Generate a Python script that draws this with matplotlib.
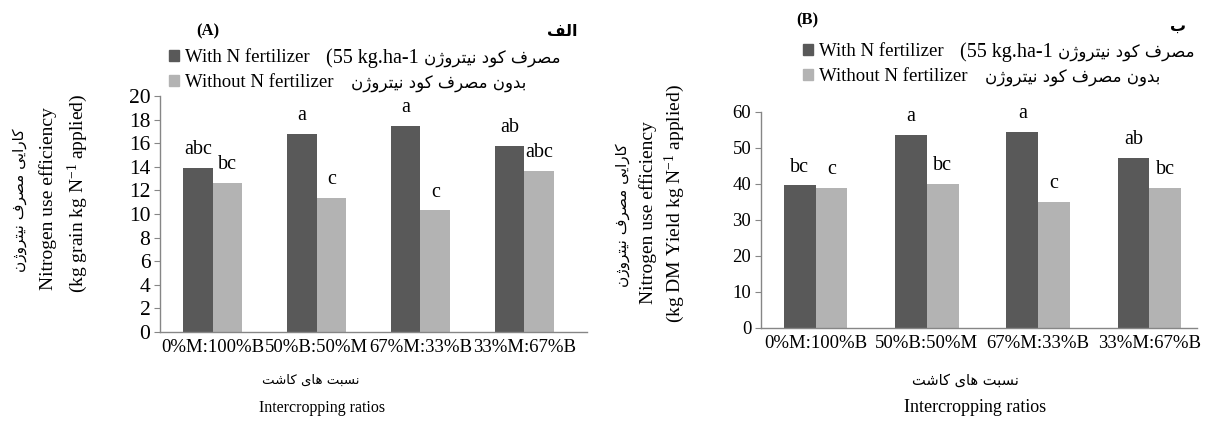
"""
Nitrogen use efficiency of intercropping ratios, with and without N fertilizer
"""
import matplotlib
matplotlib.use('Agg')
import matplotlib.pyplot as plt
from matplotlib.patches import Patch

##
# ---------------------------------------------------------------------------------------------------------------------
# Data
# ---------------------------------------------------------------------------------------------------------------------
ratios = ['0%M:100%B', '50%B:50%M', '67%M:33%B', '33%M:67%B']

grain_with_n = [13.9, 16.8, 17.45, 15.8]
grain_without_n = [12.6, 11.35, 10.3, 13.65]
grain_letters_with = ['abc', 'a', 'a', 'ab']
grain_letters_without = ['bc', 'c', 'c', 'abc']

dm_with_n = [39.6, 53.6, 54.5, 47.2]
dm_without_n = [38.8, 40.0, 35.0, 39.0]
dm_letters_with = ['bc', 'a', 'a', 'ab']
dm_letters_without = ['c', 'bc', 'c', 'bc']

##
# ---------------------------------------------------------------------------------------------------------------------
# Persian text helper (matplotlib has no Arabic shaping, so pick contextual forms by hand)
# ---------------------------------------------------------------------------------------------------------------------
# isolated, final, initial, medial
FORMS = {
    'ا': ('\uFE8D', '\uFE8E', None, None),
    'ب': ('\uFE8F', '\uFE90', '\uFE91', '\uFE92'),
    'ت': ('\uFE95', '\uFE96', '\uFE97', '\uFE98'),
    'د': ('\uFEA9', '\uFEAA', None, None),
    'ر': ('\uFEAD', '\uFEAE', None, None),
    'ژ': ('\uFB8A', '\uFB8B', None, None),
    'س': ('\uFEB1', '\uFEB2', '\uFEB3', '\uFEB4'),
    'ش': ('\uFEB5', '\uFEB6', '\uFEB7', '\uFEB8'),
    'ص': ('\uFEB9', '\uFEBA', '\uFEBB', '\uFEBC'),
    'ف': ('\uFED1', '\uFED2', '\uFED3', '\uFED4'),
    'ک': ('\uFB8E', '\uFB8F', '\uFB90', '\uFB91'),
    'ل': ('\uFEDD', '\uFEDE', '\uFEDF', '\uFEE0'),
    'م': ('\uFEE1', '\uFEE2', '\uFEE3', '\uFEE4'),
    'ن': ('\uFEE5', '\uFEE6', '\uFEE7', '\uFEE8'),
    'و': ('\uFEED', '\uFEEE', None, None),
    'ه': ('\uFEE9', '\uFEEA', '\uFEEB', '\uFEEC'),
    'ی': ('\uFBFC', '\uFBFD', '\uFBFE', '\uFBFF'),
}


def fa(text):
    chars = list(text)
    out = []
    for i, c in enumerate(chars):
        if c not in FORMS:
            out.append(c)
            continue
        prev = chars[i - 1] if i > 0 else None
        nxt = chars[i + 1] if i + 1 < len(chars) else None
        join_prev = prev in FORMS and FORMS[prev][2] is not None
        join_next = nxt in FORMS and FORMS[c][2] is not None
        iso, fin, ini, med = FORMS[c]
        if join_prev and join_next:
            out.append(med)
        elif join_prev:
            out.append(fin)
        elif join_next:
            out.append(ini)
        else:
            out.append(iso)
    return ''.join(reversed(out))


##
# ---------------------------------------------------------------------------------------------------------------------
# Style
# ---------------------------------------------------------------------------------------------------------------------
plt.rcParams['font.family'] = ['Liberation Serif', 'DejaVu Sans']
plt.rcParams['mathtext.fontset'] = 'custom'
plt.rcParams['mathtext.rm'] = 'Liberation Serif'
plt.rcParams['mathtext.it'] = 'Liberation Serif:italic'

W, H = 1207, 425
DARK = '#595959'
LIGHT = '#b3b3b3'
AXIS = '#868686'
bar_w = 0.285

fig = plt.figure(figsize=(W / 100, H / 100), dpi=100)


def px(x, y):
    # figure fraction from pixel position (origin top-left)
    return x / W, 1 - y / H


def make_axes(left, right, top, bottom, ytick_size):
    ax = fig.add_axes([left / W, 1 - bottom / H, (right - left) / W, (bottom - top) / H])
    for s in ['top', 'right']:
        ax.spines[s].set_visible(False)
    for s in ['left', 'bottom']:
        ax.spines[s].set_color(AXIS)
        ax.spines[s].set_linewidth(1)
    ax.tick_params(axis='y', length=4, color=AXIS, labelsize=ytick_size, pad=3)
    ax.tick_params(axis='x', length=0, labelsize=13.5, pad=5)
    return ax


def draw_panel(ax, with_n, without_n, lab_with, lab_without, ymax, step, xlim):
    x = list(range(len(ratios)))
    b1 = ax.bar([i - bar_w / 2 for i in x], with_n, bar_w, color=DARK)
    b2 = ax.bar([i + bar_w / 2 for i in x], without_n, bar_w, color=LIGHT)
    for bars, labels in [(b1, lab_with), (b2, lab_without)]:
        for rect, lab in zip(bars, labels):
            ax.annotate(lab, (rect.get_x() + rect.get_width() / 2, rect.get_height()),
                        xytext=(0, 10), textcoords='offset points',
                        ha='center', va='baseline', fontsize=14.5)
    ax.set_ylim(0, ymax)
    ax.set_yticks(range(0, ymax + 1, step))
    ax.set_xlim(*xlim)
    ax.set_xticks(x)
    ax.set_xticklabels(ratios)
    return b1, b2


##
# ---------------------------------------------------------------------------------------------------------------------
# Panel A - grain
# ---------------------------------------------------------------------------------------------------------------------
ax_a = make_axes(160, 587, 96, 332, 15.5)
draw_panel(ax_a, grain_with_n, grain_without_n, grain_letters_with, grain_letters_without,
           20, 2, (-0.507, 3.603))

# Panel B - dry matter
ax_b = make_axes(761, 1197, 112, 328, 13.5)
draw_panel(ax_b, dm_with_n, dm_without_n, dm_letters_with, dm_letters_without,
           60, 10, (-0.492, 3.43))

##
# ---------------------------------------------------------------------------------------------------------------------
# Legends: English part in the legend, the rest of each entry placed after it
# ---------------------------------------------------------------------------------------------------------------------
handles = [Patch(color=DARK), Patch(color=LIGHT)]
legend_tails = [[('(55 kg.ha-1', 14.5, 'Liberation Serif', 16),
                 (fa('مصرف کود نیتروژن'), 12, 'DejaVu Sans', 6)],
                [(fa('بدون مصرف کود نیتروژن'), 12, 'DejaVu Sans', 18)]]

legends = []
for ax, (lx, ly) in [(ax_a, (169, 49)), (ax_b, (803, 43))]:
    leg = ax.legend(handles, ['With N fertilizer', 'Without N fertilizer'], loc='upper left',
                    bbox_to_anchor=px(lx, ly), bbox_transform=fig.transFigure,
                    frameon=False, fontsize=13.5, handlelength=0.55, handleheight=0.55,
                    handletextpad=0.3, labelspacing=0.45, borderpad=0, borderaxespad=0)
    legends.append(leg)

fig.canvas.draw()
renderer = fig.canvas.get_renderer()
for leg in legends:
    for txt, tail in zip(leg.get_texts(), legend_tails):
        bb = txt.get_window_extent(renderer)
        x0 = bb.x1
        yc = (bb.y0 + bb.y1) / 2 - 1
        for s, size, family, gap in tail:
            t = fig.text((x0 + gap) / W, yc / H, s, fontsize=size, family=family,
                         ha='left', va='center')
            x0 = t.get_window_extent(renderer).x1

##
# ---------------------------------------------------------------------------------------------------------------------
# Titles and axis labels
# ---------------------------------------------------------------------------------------------------------------------
fig.text(*px(208, 31), '(A)', fontsize=12, fontweight='bold', ha='center', va='center')
fig.text(*px(578, 31), fa('الف'), fontsize=11.5, fontweight='bold', ha='right', va='center',
         family='DejaVu Sans')
fig.text(*px(807, 20), '(B)', fontsize=12, fontweight='bold', ha='center', va='center')
fig.text(*px(1186, 26), fa('ب'), fontsize=11.5, fontweight='bold', ha='right', va='center',
         family='DejaVu Sans')

# y labels
y_fa = fa('کارایی مصرف نیتروژن')
fig.text(*px(20, 200), y_fa, rotation=90, fontsize=11, ha='center', va='center', family='DejaVu Sans')
fig.text(*px(48, 199), 'Nitrogen use efficiency', rotation=90, fontsize=14, ha='center', va='center')
fig.text(*px(78, 193), '(kg grain kg N$^{\\mathrm{-1}}$ applied)', rotation=90, fontsize=14,
         ha='center', va='center')

fig.text(*px(622, 215), y_fa, rotation=90, fontsize=11, ha='center', va='center', family='DejaVu Sans')
fig.text(*px(648, 213), 'Nitrogen use efficiency', rotation=90, fontsize=14, ha='center', va='center')
fig.text(*px(675, 204), '(kg DM Yield kg N$^{\\mathrm{-1}}$ applied)', rotation=90, fontsize=14,
         ha='center', va='center')

# x labels
x_fa = fa('نسبت های کاشت')
fig.text(*px(311, 380), x_fa, fontsize=9.5, ha='center', va='center', family='DejaVu Sans')
fig.text(*px(322, 408), 'Intercropping ratios', fontsize=11.5, ha='center', va='center')
fig.text(*px(965, 380), x_fa, fontsize=10.5, ha='center', va='center', family='DejaVu Sans')
fig.text(*px(975, 408), 'Intercropping ratios', fontsize=13, ha='center', va='center')

fig.savefig('out.png', dpi=100)
